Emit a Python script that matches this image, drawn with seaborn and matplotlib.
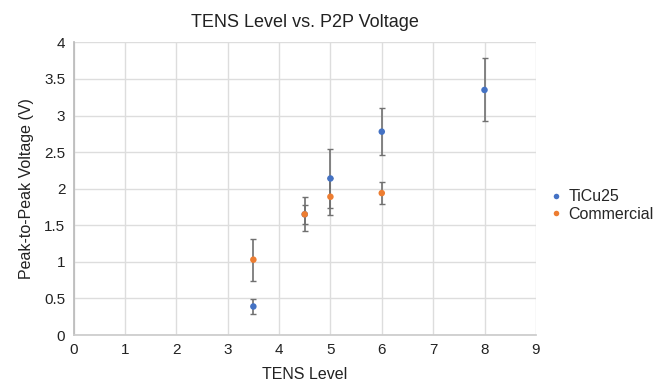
import matplotlib
matplotlib.use("Agg")
import matplotlib.pyplot as plt
import seaborn as sns
import pandas as pd

tens_ticu = [3.5, 4.5, 5, 6, 8]
ticu_vals = [0.39, 1.65, 2.14, 2.78, 3.35]
ticu_err = [0.10, 0.13, 0.40, 0.32, 0.43]

tens_comm = [3.5, 4.5, 5, 6]
comm_vals = [1.03, 1.65, 1.89, 1.94]
comm_err = [0.285, 0.23, 0.25, 0.155]

x_ticks = list(range(0, 10))
y_ticks = [0, 0.5, 1, 1.5, 2, 2.5, 3, 3.5, 4]
y_tick_labels = ["0", "0.5", "1", "1.5", "2", "2.5", "3", "3.5", "4"]

sns.set_theme(style="whitegrid")
plt.rcParams['font.family'] = ['Liberation Sans', 'DejaVu Sans']

df = pd.DataFrame({
    "TENS Level": tens_ticu + tens_comm,
    "Voltage": ticu_vals + comm_vals,
    "Series": ["TiCu25"] * len(tens_ticu) + ["Commercial"] * len(tens_comm),
})

fig = plt.figure(figsize=(6.69, 3.81), dpi=100)
ax = fig.add_axes([0.11, 0.1207, 0.691, 0.768])

blue = "#4472C4"
orange = "#ED7D31"

ax.errorbar(tens_ticu, ticu_vals, yerr=ticu_err, fmt="none", ecolor="#707070",
            elinewidth=1.2, capsize=2.5, capthick=1.0, zorder=2)
ax.errorbar(tens_comm, comm_vals, yerr=comm_err, fmt="none", ecolor="#707070",
            elinewidth=1.2, capsize=2.5, capthick=1.0, zorder=2)
sns.scatterplot(data=df, x="TENS Level", y="Voltage", hue="Series",
                palette={"TiCu25": blue, "Commercial": orange},
                s=22, edgecolor="none", ax=ax, zorder=3)

ax.set_xlim(0, 9)
ax.set_ylim(0, 4)
ax.set_xticks(x_ticks)
ax.set_yticks(y_ticks)
ax.set_yticklabels(y_tick_labels)
ax.tick_params(axis="both", length=0, labelsize=11, colors="#222222", pad=6)
ax.grid(True, color="#DDDDDD", linewidth=1.0)
for side in ["top", "right"]:
    ax.spines[side].set_visible(False)
ax.spines["left"].set_color("#BBBBBB")
ax.spines["bottom"].set_color("#CCCCCC")

ax.set_xlabel("TENS Level", fontsize=11.5, color="#222222", labelpad=7)
ax.set_ylabel("Peak-to-Peak Voltage (V)", fontsize=11.5, color="#222222", labelpad=7)
ax.set_title("TENS Level vs. P2P Voltage", fontsize=13, color="#222222", pad=11)

leg = ax.legend(loc="center left", bbox_to_anchor=(543 / 669, 1 - 205.5 / 381),
                bbox_transform=fig.transFigure, frameon=False,
                fontsize=11.5, handlelength=0.8, handletextpad=0.4,
                markerscale=0.85, borderaxespad=0, labelspacing=0.15)

fig.savefig("out.png", dpi=100)
